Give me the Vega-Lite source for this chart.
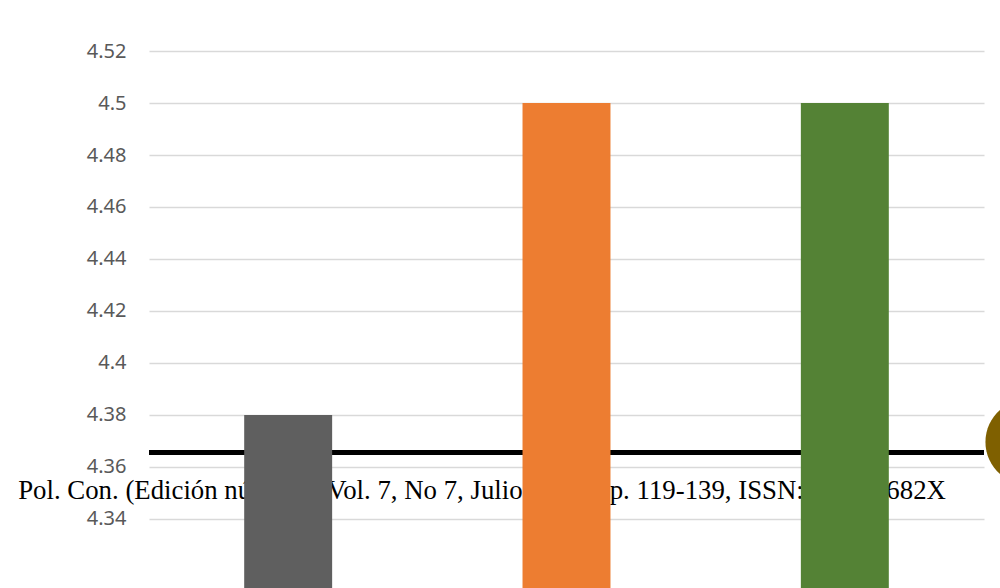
{
  "$schema": "https://vega.github.io/schema/vega-lite/v6.json",
  "width": 835,
  "height": 578,
  "autosize": "none",
  "padding": {"left": 149, "top": 10, "right": 16, "bottom": 0},
  "background": "white",
  "config": {"view": {"stroke": null}},
  "layer": [
    {
      "data": {"values": [
        {"grupo": "Grupo 1", "valor": 4.38},
        {"grupo": "Grupo 2", "valor": 4.5},
        {"grupo": "Grupo 3", "valor": 4.5}
      ]},
      "mark": {"type": "bar", "opacity": 0},
      "encoding": {
        "x": {"field": "grupo", "type": "nominal", "sort": null, "axis": null,
              "scale": {"paddingInner": 0.684, "paddingOuter": 0.342}},
        "y": {"field": "valor", "type": "quantitative",
              "scale": {"domain": [4.31346, 4.53577], "nice": false, "zero": false},
              "axis": {"values": [4.34, 4.36, 4.38, 4.4, 4.42, 4.44, 4.46, 4.48, 4.5, 4.52],
                       "format": "~g", "title": null, "domain": false, "ticks": false,
                       "labelPadding": 23, "labelFont": "Noto Sans", "labelFontSize": 20,
                       "labelColor": "#595959", "grid": true, "gridColor": "#d9d9d9",
                       "gridWidth": 1.5}}
      }
    },
    {
      "data": {"values": [{}]},
      "mark": {"type": "rule", "color": "#000000", "strokeWidth": 5},
      "encoding": {
        "y": {"datum": 4.36558, "type": "quantitative"}
      }
    },
    {
      "data": {"values": [{}]},
      "mark": {"type": "text", "font": "Liberation Serif", "fontSize": 26.8, "align": "left", "baseline": "alphabetic", "dx": -270, "color": "#000000"},
      "encoding": {
        "x": {"datum": "Grupo 1", "type": "nominal", "axis": null},
        "y": {"datum": 4.34769, "type": "quantitative"},
        "text": {"value": "Pol. Con. (Edición núm. 72) Vol. 7, No 7, Julio 2022, pp. 119-139, ISSN: 2550 - 682X"}
      }
    },
    {
      "data": {"values": [
        {"grupo": "Grupo 1", "valor": 4.38},
        {"grupo": "Grupo 2", "valor": 4.5},
        {"grupo": "Grupo 3", "valor": 4.5}
      ]},
      "mark": {"type": "bar", "clip": true},
      "encoding": {
        "x": {"field": "grupo", "type": "nominal", "sort": null, "axis": null},
        "y": {"field": "valor", "type": "quantitative"},
        "color": {"field": "grupo", "type": "nominal", "legend": null,
                  "scale": {"domain": ["Grupo 1", "Grupo 2", "Grupo 3"],
                            "range": ["#5f5f5f", "#ed7d31", "#548235"]}}
      }
    },
    {
      "data": {"values": [{}]},
      "mark": {"type": "point", "filled": true, "opacity": 1, "color": "#7f6000", "size": 7191, "clip": false,
               "shape": "M 5.316 0 A 1 1 0 1 1 3.316 0 A 1 1 0 1 1 5.316 0 Z"},
      "encoding": {
        "x": {"datum": "Grupo 3", "type": "nominal", "axis": null},
        "y": {"datum": 4.36962, "type": "quantitative"}
      }
    }
  ]
}
